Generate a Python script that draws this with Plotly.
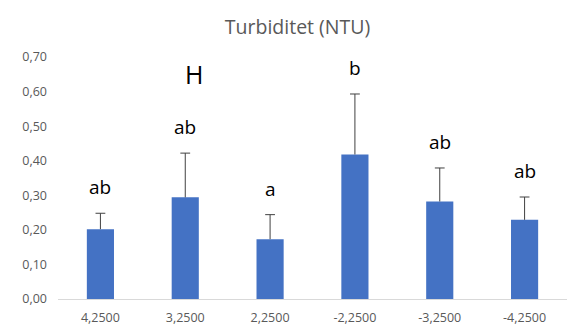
import plotly.graph_objects as go

# Turbidity means per level, with standard deviation and group letters
levels = ["4,2500", "3,2500", "2,2500", "-2,2500", "-3,2500", "-4,2500"]
turbidity = [0.202, 0.294, 0.173, 0.418, 0.282, 0.229]
std_dev = [0.046, 0.128, 0.071, 0.175, 0.097, 0.066]
groups = ["ab", "ab", "a", "b", "ab", "ab"]
y_ticks = [0.0, 0.1, 0.2, 0.3, 0.4, 0.5, 0.6, 0.7]

FONT = "Open Sans"
GREY = "#595959"
ERR = "#404040"

fig = go.Figure(
    go.Bar(
        x=levels,
        y=turbidity,
        marker=dict(color="#4472C4", line=dict(width=0)),
        hoverinfo="x+y",
    )
)

# Upper-only error whiskers: stem from bar top to mean + sd, cap at the end
stem_x, stem_y = [], []
for lvl, m, s in zip(levels, turbidity, std_dev):
    stem_x += [lvl, lvl, None]
    stem_y += [m, m + s, None]
fig.add_trace(go.Scatter(
    x=stem_x, y=stem_y, mode="lines",
    line=dict(color=ERR, width=1), hoverinfo="skip",
))
fig.add_trace(go.Scatter(
    x=levels, y=[m + s for m, s in zip(turbidity, std_dev)], mode="markers",
    marker=dict(symbol="line-ew", size=7, line=dict(color=ERR, width=1)),
    hoverinfo="skip",
))

# Group letters above each error bar
for lvl, m, s, g in zip(levels, turbidity, std_dev, groups):
    fig.add_annotation(
        x=lvl, y=m + s, text=g, showarrow=False,
        yanchor="bottom", yshift=11,
        font=dict(family=FONT, size=19, color="#000000"),
    )

fig.add_annotation(
    xref="paper", yref="paper", x=0.267, y=0.93, text="H",
    showarrow=False, xanchor="center", yanchor="middle",
    font=dict(family=FONT, size=25, color="#000000"),
)

fig.update_layout(
    width=570, height=329,
    margin=dict(l=58, r=3, t=57, b=30),
    paper_bgcolor="white", plot_bgcolor="white",
    showlegend=False,
    bargap=0.68,
    title=dict(
        text="Turbiditet (NTU)",
        xref="container", yref="container",
        x=0.522, y=1 - 27 / 329, xanchor="center", yanchor="middle",
        font=dict(family=FONT, size=19.5, color=GREY),
    ),
    font=dict(family=FONT, color=GREY),
)

fig.update_xaxes(
    showgrid=False, showline=True, linecolor="#D9D9D9", linewidth=1,
    ticks="", tickfont=dict(family=FONT, size=12.5, color=GREY),
    ticklabelstandoff=7, zeroline=False,
)
fig.update_yaxes(
    range=[0, 0.7], tickvals=y_ticks,
    ticktext=[f"{v:.2f}".replace(".", ",") for v in y_ticks],
    showgrid=False, showline=False, zeroline=False, ticks="",
    tickfont=dict(family=FONT, size=12.5, color=GREY),
    ticklabelstandoff=10,
)

fig.write_html("out.html")
